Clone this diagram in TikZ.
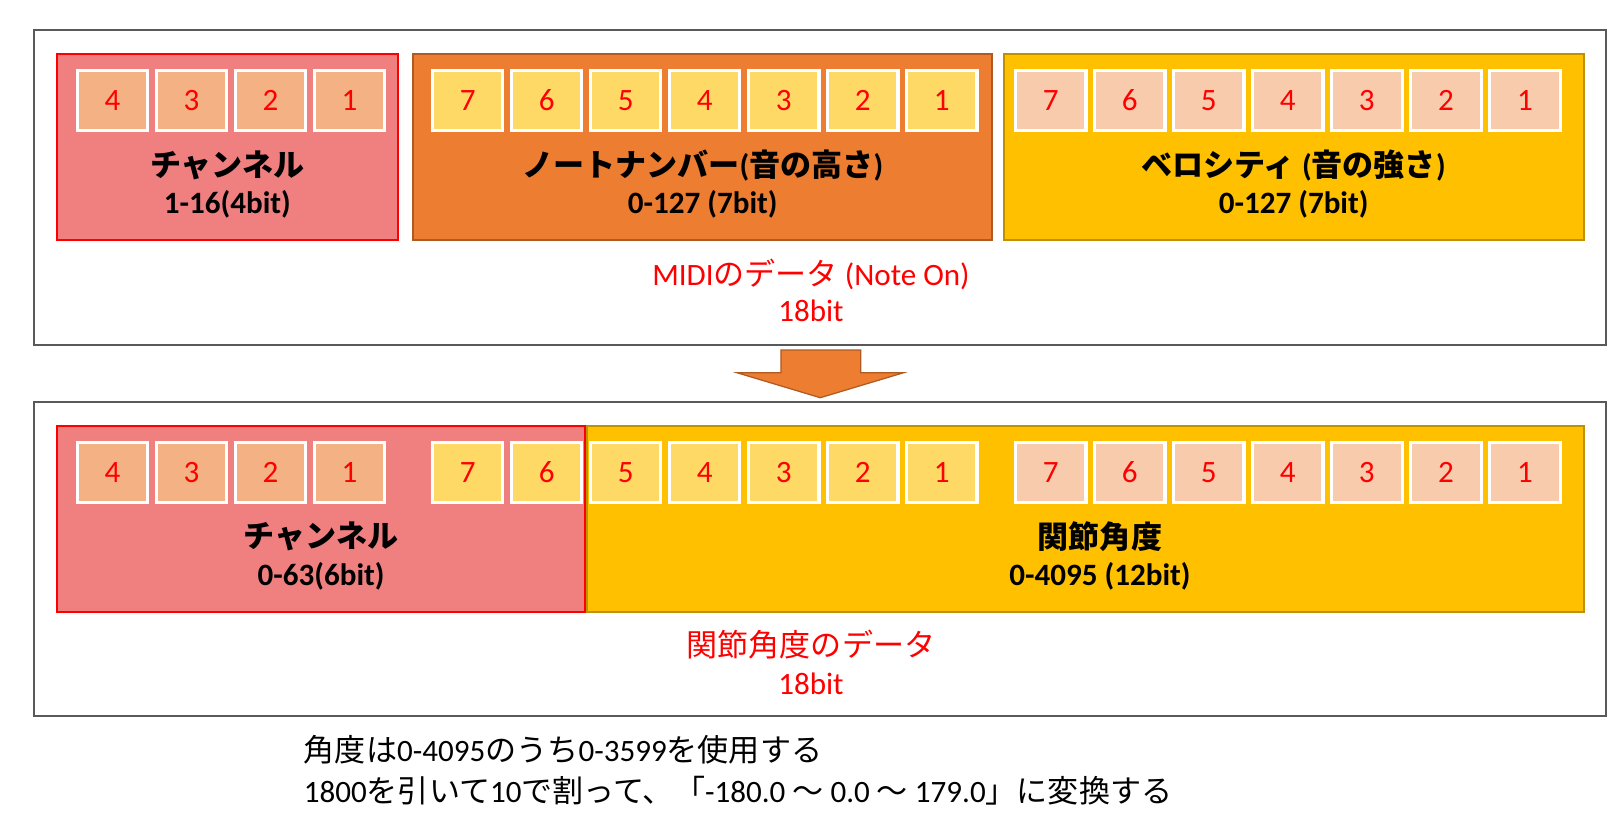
\documentclass[tikz,border=0pt]{standalone}
\usepackage{fontspec}
\setmainfont{Carlito}
\newfontfamily\jp{Noto Sans CJK JP}
\usetikzlibrary{positioning}

\definecolor{framegray}{HTML}{595959}
\definecolor{chanfill}{HTML}{F08080}
\definecolor{notefill}{HTML}{ED7D31}
\definecolor{notedraw}{HTML}{AE5A21}
\definecolor{velfill}{HTML}{FFC000}
\definecolor{veldraw}{HTML}{BF9000}
\definecolor{chanbit}{HTML}{F4B183}
\definecolor{notebit}{HTML}{FFD966}
\definecolor{velbit}{HTML}{F8CBAD}

\begin{document}
\begin{tikzpicture}[
            x = 0.5pt, y = -0.5pt, % one unit = one pixel of the sketch, y downwards
            every node/.style = {inner sep = 0pt},
            line join = miter
        ]

        \tikzstyle{frame}=[
            draw = framegray,
            line width = 1pt,
            minimum width = 759pt
        ]
        \tikzstyle{field}=[
            line width = 1pt,
            minimum height = 90pt
        ]
        \tikzstyle{bit}=[
            draw = white,
            line width = 1.5pt,
            minimum width = 34pt,
            minimum height = 29pt,
            text = red,
            font = \fontsize{15}{18}\selectfont
        ]
        \tikzstyle{title}=[font = \fontsize{15}{18}\selectfont\bfseries]
        \tikzstyle{caption}=[text = red, font = \fontsize{15}{18}\selectfont]
        \tikzstyle{remark}=[anchor = west, font = \fontsize{15}{18}\selectfont]

        \useasboundingbox (0,0) rectangle (1568,798);

        % MIDI message
        \node[frame, minimum height = 152pt] (midi) at (792,181) {};
        \node[field, draw = red, fill = chanfill, minimum width = 164.5pt] (chanA) at (219.5,142) {};
        \node[field, draw = notedraw, fill = notefill, minimum width = 279.5pt] (noteA) at (678.5,142) {};
        \node[field, draw = veldraw, fill = velfill, minimum width = 280pt] (velA) at (1249,142) {};

        \foreach \i/\n in {0/4,1/3,2/2,3/1}
            \node[bit, fill = chanbit] (chanA\n) at (108.5+76.3*\i,97) {\n};
        \foreach \i/\n in {0/7,1/6,2/5,3/4,4/3,5/2,6/1} {
            \node[bit, fill = notebit] (noteA\n) at (451.5+76.3*\i,97) {\n};
            \node[bit, fill = velbit] (velA\n) at (1014.5+76.3*\i,97) {\n};
        }

        \node[title] (chanAname) at (219.5,160) {\jp チャンネル};
        \node[title] (chanArange) at (219.5,197) {1-16(4bit)};
        \node[title] (noteAname) at (678.5,160) {{\jp ノートナンバー}({\jp 音の高さ})};
        \node[title] (noteArange) at (678.5,197) {0-127 (7bit)};
        \node[title] (velAname) at (1249,160) {{\jp ベロシティ} ({\jp 音の強さ})};
        \node[title] (velArange) at (1249,197) {0-127 (7bit)};

        \node[caption] (midiname) at (783,265) {MIDI{\jp のデータ} (Note On)};
        \node[caption] (midisize) at (783,300) {18bit};

        % conversion
        \draw[fill = notefill, draw = notedraw, line width = 0.6pt]
            (754,338) -- (831,338) -- (831,360) -- (872,360) -- (792,384)
            -- (712,360) -- (754,360) -- cycle;

        % joint message
        \node[frame, minimum height = 151.5pt] (joint) at (792,539.5) {};
        \node[field, draw = veldraw, fill = velfill, minimum width = 481pt] (angleB) at (1048,501) {};
        \node[field, draw = red, fill = chanfill, minimum width = 255pt] (chanB) at (310,501) {};

        \foreach \i/\n in {0/4,1/3,2/2,3/1}
            \node[bit, fill = chanbit] (chanB\n) at (108.5+76.3*\i,456) {\n};
        \foreach \i/\n in {0/7,1/6,2/5,3/4,4/3,5/2,6/1} {
            \node[bit, fill = notebit] (noteB\n) at (451.5+76.3*\i,456) {\n};
            \node[bit, fill = velbit] (velB\n) at (1014.5+76.3*\i,456) {\n};
        }

        \node[title] (chanBname) at (310,518) {\jp チャンネル};
        \node[title] (chanBrange) at (310,556) {0-63(6bit)};
        \node[title] (angleBname) at (1062,518) {\jp 関節角度};
        \node[title] (angleBrange) at (1062,556) {0-4095 (12bit)};

        \node[caption] (jointname) at (783,622) {\jp 関節角度のデータ};
        \node[caption] (jointsize) at (783,660) {18bit};

        % notes
        \node[remark] (usenote) at (293,724) {{\jp 角度は}0-4095{\jp のうち}0-3599{\jp を使用する}};
        \node[remark] (convnote) at (293,763) {1800{\jp を引いて}10{\jp で割って、「}-180.0 {\jp ～} 0.0 {\jp ～} 179.0{\jp 」に変換する}};

    \end{tikzpicture}
\end{document}
